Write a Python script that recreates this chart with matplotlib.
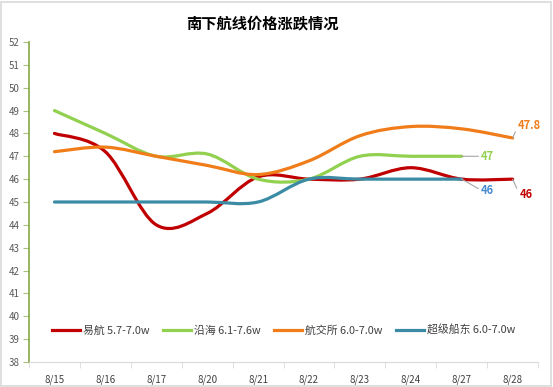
import numpy as np
import matplotlib
matplotlib.use("Agg")
import matplotlib.pyplot as plt
from matplotlib.path import Path
from matplotlib.patches import PathPatch, Rectangle
from matplotlib.lines import Line2D

plt.rcParams['font.family'] = ['Noto Sans CJK SC', 'DejaVu Sans']

dates = ['8/15', '8/16', '8/17', '8/20', '8/21', '8/22', '8/23', '8/24', '8/27', '8/28']
yihang = [48, 47.2, 44, 44.5, 46.1, 46, 46, 46.5, 46, 46]
yanhai = [49, 48, 47, 47.1, 46, 46, 47, 47, 47]
hangjiao = [47.2, 47.4, 47, 46.6, 46.2, 46.8, 47.9, 48.3, 48.2, 47.8]
chaoji = [45, 45, 45, 45, 45, 46, 46, 46, 46]

names = ['易航 5.7-7.0w', '沿海 6.1-7.6w', '航交所 6.0-7.0w', '超级船东 6.0-7.0w']
colors = ['#c00000', '#92d050', '#f07c1a', '#3b8ba5']
series = [yihang, yanhai, hangjiao, chaoji]


def smooth_path(ys):
    # excel-like smoothed line: cubic bezier through every point
    xs = np.arange(len(ys), dtype=float)
    pts = np.column_stack([xs, np.array(ys, dtype=float)])
    verts = [pts[0]]
    codes = [Path.MOVETO]
    n = len(pts)
    for i in range(n - 1):
        p0 = pts[i - 1] if i > 0 else pts[i]
        p1 = pts[i]
        p2 = pts[i + 1]
        p3 = pts[i + 2] if i + 2 < n else pts[i + 1]
        c1 = p1 + (p2 - p0) / 6.0
        c2 = p2 - (p3 - p1) / 6.0
        verts += [c1, c2, p2]
        codes += [Path.CURVE4] * 3
    return Path(verts, codes)


fig = plt.figure(figsize=(5.53, 3.87), dpi=100)
fig.patches.append(Rectangle((0.002, 0.003), 0.995, 0.993, transform=fig.transFigure,
                             fill=False, edgecolor='#d9d9d9', linewidth=1.2))
ax = fig.add_axes([0.0524, 0.0646, 0.9206, 0.8269])

for ys, c in zip(series, colors):
    ax.add_patch(PathPatch(smooth_path(ys), facecolor='none', edgecolor=c,
                           linewidth=2.3, capstyle='round'))

ax.set_xlim(-0.5, 9.5)
ax.set_ylim(38, 52)
ax.set_yticks(range(38, 53))
ax.set_xticks(range(len(dates)))
ax.set_xticklabels(dates)
ax.set_xticks(np.arange(-0.5, 10, 1), minor=True)

ax.tick_params(axis='x', which='major', length=0, pad=9, labelsize=7, labelcolor='#404040')
ax.tick_params(axis='x', which='minor', length=4, color='#d9d9d9', direction='out')
ax.tick_params(axis='y', length=4, color='#a9c47f', labelsize=7, labelcolor='#595959', pad=3)

for s in ['top', 'right']:
    ax.spines[s].set_visible(False)
ax.spines['left'].set_color('#86a845')
ax.spines['left'].set_linewidth(1.2)
ax.spines['bottom'].set_color('#d9d9d9')

# end labels
def end_label(ys, text, color, dx, dy):
    i = len(ys) - 1
    ax.annotate(text, xy=(i, ys[-1]), xytext=(dx, dy), textcoords='offset points',
                color=color, fontsize=8, fontweight='bold', va='center', ha='left',
                arrowprops=dict(arrowstyle='-', color='#a6a6a6', lw=0.8,
                                shrinkA=0, shrinkB=0, relpos=(0, 0.5)))

end_label(hangjiao, '47.8', '#f07c1a', 4, 9)
end_label(yanhai, '47', '#92d050', 14, 0)
end_label(chaoji, '46', '#4a8bd0', 14, -8)
end_label(yihang, '46', '#c00000', 5, -11)

handles = [Line2D([], [], color=c, lw=2.3) for c in colors]
ax.legend(handles, names, loc='center', bbox_to_anchor=(0.5, 0.1), ncol=4,
          frameon=False, fontsize=7.8, handlelength=2.6, handletextpad=0.3,
          columnspacing=1.2, labelcolor='#404040')

fig.suptitle('南下航线价格涨跌情况', x=0.475, y=0.96, fontsize=11, fontweight='bold')

fig.savefig('out.png', dpi=100)
